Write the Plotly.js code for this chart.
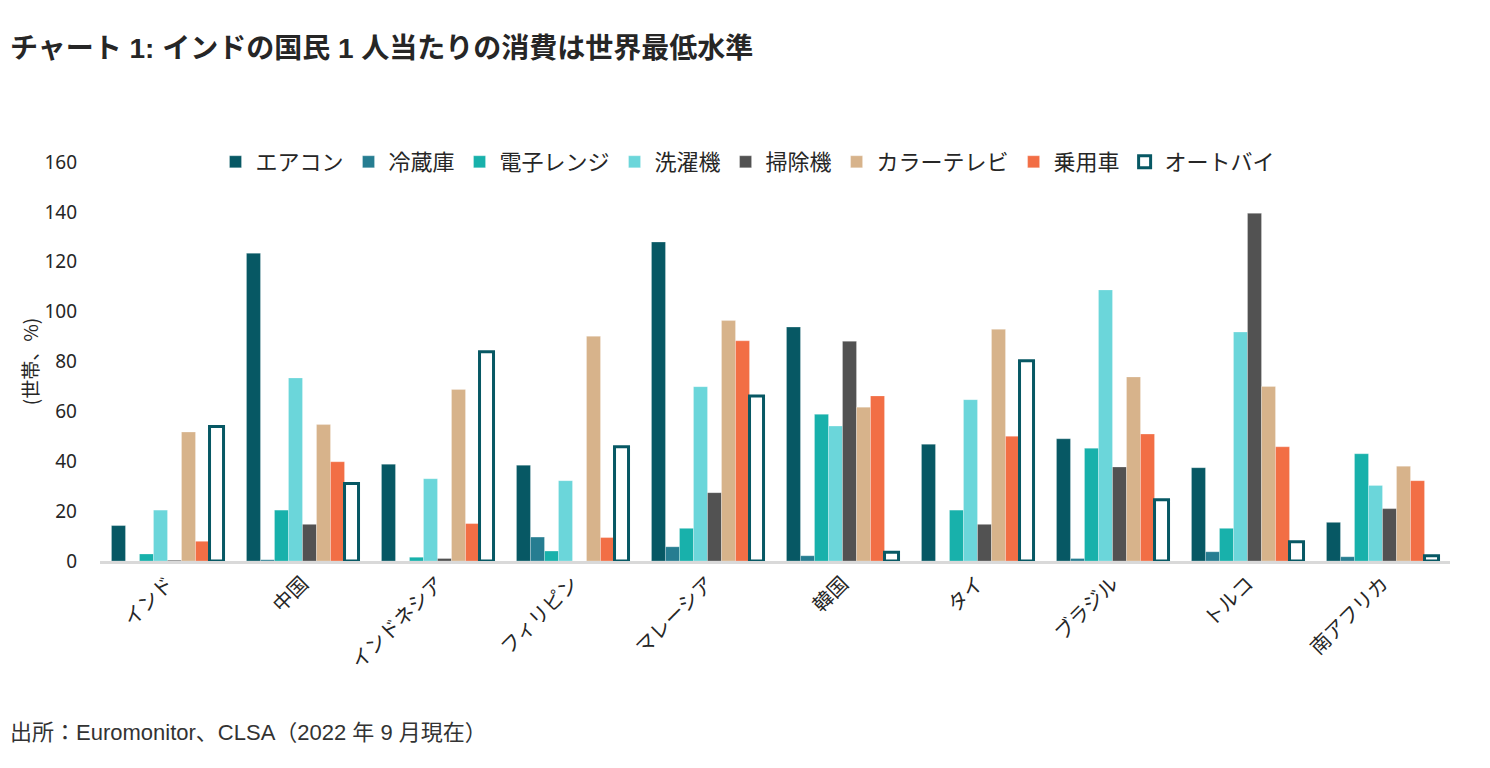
<!DOCTYPE html>
<html>
<head>
<meta charset="utf-8">
<script src="https://cdn.plot.ly/plotly-3.0.1.min.js"></script>
<style>html,body{margin:0;padding:0;background:#fff;}#chart{width:1490px;height:768px;}</style>
</head>
<body>
<div id="chart"></div>
<script>
const countries = ["インド","中国","インドネシア","フィリピン","マレーシア","韓国","タイ","ブラジル","トルコ","南アフリカ"];
const seriesNames = ["エアコン","冷蔵庫","電子レンジ","洗濯機","掃除機","カラーテレビ","乗用車","オートバイ"];
const aircon      = [14.2, 123.4, 38.8, 38.4, 127.9, 93.8, 46.8, 49.0, 37.4, 15.5];
const fridge      = [0,    0.5,   0,    9.6,  5.7,   2.1,  0,    1.0,  3.7,  1.7];
const microwave   = [2.8,  20.4,  1.5,  4.0,  13.1,  58.8, 20.4, 45.2, 13.1, 43.0];
const washer      = [20.4, 73.4,  33.0, 32.2, 69.9,  54.1, 64.7, 108.7, 91.8, 30.3];
const vacuum      = [0.3,  14.7,  1.0,  0,    27.4,  88.1, 14.7, 37.7, 139.4, 21.0];
const colorTV     = [51.7, 54.7,  68.8, 90.1, 96.4,  61.7, 92.9, 73.8, 70.0, 38.0];
const car         = [7.9,  39.8,  15.0, 9.4,  88.3,  66.2, 50.0, 50.9, 45.8, 32.2];
const motorbike   = [53.9, 31.1,  83.9, 45.8, 66.2,  3.5,  80.3, 24.6, 7.7,  2.1];
const values = [aircon, fridge, microwave, washer, vacuum, colorTV, car, motorbike];
const colors = ["#075864","#267d91","#18b1ab","#6bd6da","#525252","#d7b38b","#f26e45","#ffffff"];

const traces = seriesNames.map((name, i) => ({
  type: "bar",
  name: name,
  x: countries,
  y: values[i],
  marker: {
    color: colors[i],
    line: i === 7 ? {color: "#075864", width: 3} : {color: "rgba(255,255,255,0.5)", width: 0.5}
  }
}));

const baseFont = "Noto Sans, Noto Sans CJK JP, sans-serif";
const layout = {
  width: 1490, height: 768,
  paper_bgcolor: "#ffffff", plot_bgcolor: "#ffffff",
  margin: {l: 100, r: 40, t: 162, b: 207},
  font: {family: baseFont, color: "#262626", size: 18},
  barmode: "group",
  bargap: 0.17,
  bargroupgap: 0,
  showlegend: true,
  legend: {
    orientation: "h", x: 0.48, xanchor: "center", y: 1.0, yanchor: "middle",
    font: {family: "Noto Sans CJK JP, sans-serif", size: 22, color: "#262626"},
    itemwidth: 30, traceorder: "normal", bgcolor: "rgba(0,0,0,0)"
  },
  title: {
    text: "<b>チャート 1: インドの国民 1 人当たりの消費は世界最低水準</b>",
    xref: "container", x: 10/1490, xanchor: "left",
    yref: "container", y: 1 - 48/768, yanchor: "middle",
    font: {family: "Liberation Sans, Noto Sans CJK JP, sans-serif", size: 28, color: "#262626"}
  },
  xaxis: {
    type: "category",
    tickangle: -45,
    showline: true, linecolor: "#d9d9d9", linewidth: 3,
    showgrid: false, zeroline: false,
    ticks: "",
    tickfont: {family: "Noto Sans CJK JP, sans-serif", size: 20, color: "#262626"}
  },
  yaxis: {
    range: [0, 160],
    tickvals: [0,20,40,60,80,100,120,140,160],
    showgrid: false, zeroline: false, showline: false,
    ticks: "", ticklabelstandoff: 22,
    tickfont: {family: baseFont, size: 19, color: "#262626"},
    title: {text: "(世帯、%)", font: {family: "Noto Sans CJK JP, sans-serif", size: 19, color: "#262626"}, standoff: 0}
  },
  annotations: [{
    text: "出所：Euromonitor、CLSA（2022 年 9 月現在）",
    xref: "paper", yref: "paper", x: -0.068, y: -0.43,
    xanchor: "left", yanchor: "middle", showarrow: false,
    font: {family: "Liberation Sans, Noto Sans CJK JP, sans-serif", size: 22, color: "#333333"}
  }]
};
Plotly.newPlot("chart", traces, layout, {displayModeBar: false, staticPlot: true});
</script>
</body>
</html>
